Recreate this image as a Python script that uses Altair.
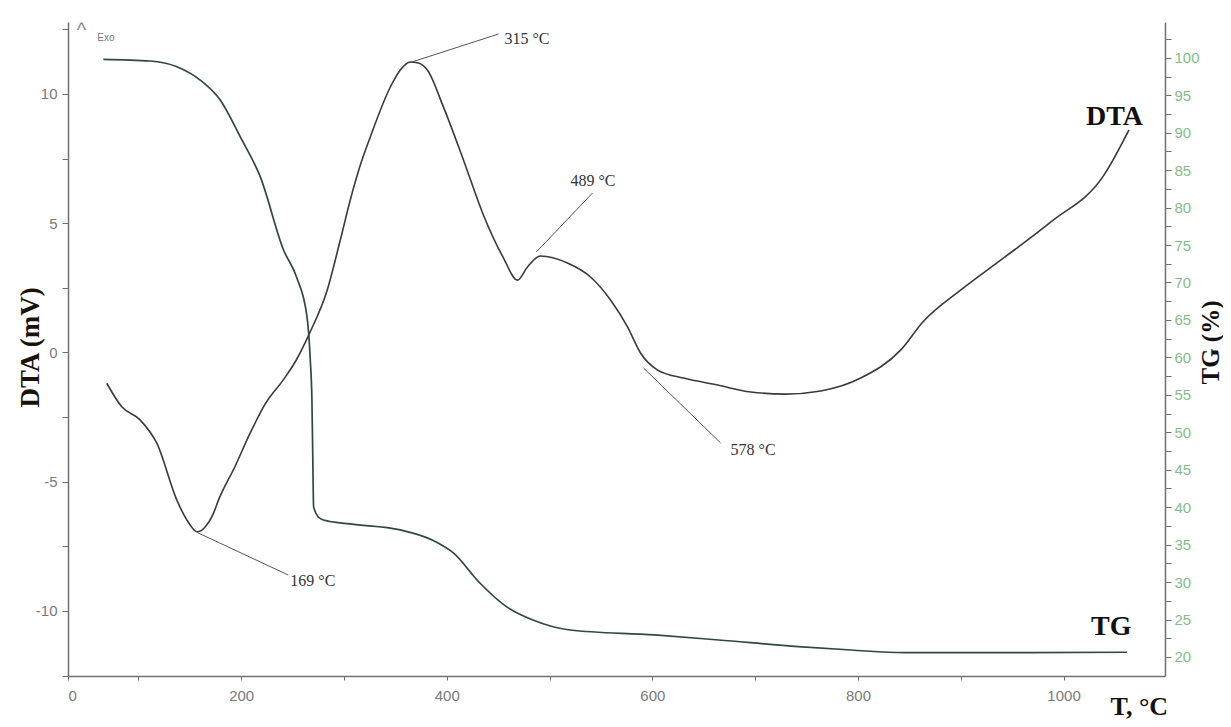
import altair as alt
import pandas as pd

# ---------------- data ----------------
dta_t = [69.2, 83.8, 101.7, 117.9, 137.4, 148.4, 157.2, 164.9, 172.7, 177.6,
         194.2, 208.8, 223.4, 240.9, 253.6, 266.2, 283.7, 296.4, 306.1, 315.9,
         325.6, 345.1, 354.8, 364.6, 372.3, 381.1, 396.7, 416.2, 435.6, 455.1,
         468.7, 478.5, 491.1, 517.4, 539.8, 559.3, 575.8, 588.5, 605.1, 630.4,
         663.5, 695.6, 729.7, 763.8, 802.7, 841.7, 863.1, 900.1, 939.1,
         987.7, 1039.3, 1063.7]
dta_mv = [-1.19, -2.10, -2.61, -3.51, -5.71, -6.56, -6.94, -6.75, -6.25, -5.74,
          -4.39, -3.11, -1.99, -1.06, -0.29, 0.72, 2.42, 4.35, 5.90, 7.25,
          8.34, 10.27, 10.93, 11.24, 11.20, 10.93, 9.50, 7.45, 5.32, 3.66,
          2.80, 3.31, 3.73, 3.46, 2.92, 2.03, 0.99, -0.02, -0.68, -0.99,
          -1.26, -1.53, -1.61, -1.49, -0.99, 0.10, 1.18, 2.42, 3.58,
          5.05, 6.86, 8.61]

tg_t = [65.9, 111.4, 137.4, 160.1, 179.6, 199.0, 218.5, 241.2, 254.2, 264.0,
        267.2, 268.8, 269.8, 270.4, 275.0, 280.1, 306.1, 354.8, 385.8, 406.4,
        432.2, 458.0, 483.8, 519.9, 602.1, 664.4, 741.9, 793.4, 845.0, 922.5,
        1061.7]
tg_pct = [99.80, 99.57, 98.81, 97.03, 94.36, 89.47, 84.13, 74.34, 70.60, 65.43,
          59.65, 54.31, 44.97, 40.07, 38.69, 38.29, 37.76, 36.96, 35.62, 33.89,
          29.88, 26.72, 24.94, 23.60, 22.94, 22.27, 21.38, 20.93, 20.57, 20.57,
          20.63]

ann_text = ["315 \u00b0C", "489 \u00b0C", "578 \u00b0C", "169 \u00b0C"]
ann_x1 = [364.6, 487.2, 591.4, 158.1]
ann_y1 = [11.22, 3.89, -0.60, -6.98]
ann_x2 = [450.3, 541.8, 666.4, 245.8]
ann_y2 = [12.32, 6.17, -3.50, -8.61]
ann_tx = [456.1, 520.3, 676.1, 247.7]
ann_ty = [12.13, 6.63, -3.77, -8.84]

x_ticks = [31.5, 100, 200, 300, 400, 500, 600, 700, 800, 900, 1000]
dta_ticks = [-12.5, -10, -7.5, -5, -2.5, 0, 2.5, 5, 7.5, 10, 12.5]
tg_ticks = [20, 22.5, 25, 27.5, 30, 32.5, 35, 37.5, 40, 42.5, 45, 47.5, 50,
            52.5, 55, 57.5, 60, 62.5, 65, 67.5, 70, 72.5, 75, 77.5, 80, 82.5,
            85, 87.5, 90, 92.5, 95, 97.5, 100, 102.5]

X_DOMAIN = [31.5, 1098.7]
DTA_DOMAIN = [-12.515, 12.785]
TG_DOMAIN = [17.46, 104.78]

# ---------------- tables ----------------
dta_df = pd.DataFrame({"T": dta_t, "DTA": dta_mv})
tg_df = pd.DataFrame({"T": tg_t, "TG": tg_pct})
ann_df = pd.DataFrame({"label": ann_text, "x1": ann_x1, "y1": ann_y1,
                       "x2": ann_x2, "y2": ann_y2, "tx": ann_tx, "ty": ann_ty})
dta_lab_df = pd.DataFrame({"T": [1021.8], "v": [9.11], "t": ["DTA"]})
tg_lab_df = pd.DataFrame({"T": [1026.7], "v": [24.0], "t": ["TG"]})
exo_df = pd.DataFrame({"T": [44.5], "v": [12.42], "t": ["^"]})
exo2_df = pd.DataFrame({"T": [60.0], "v": [12.17], "t": ["Exo"]})

AX_COL = "#6f6f6f"
LAB_FONT = "Liberation Sans"
SERIF = "Liberation Serif"

xs = alt.Scale(domain=X_DOMAIN, nice=False, zero=False)
ys_dta = alt.Scale(domain=DTA_DOMAIN, nice=False, zero=False)
ys_tg = alt.Scale(domain=TG_DOMAIN, nice=False, zero=False)

x_axis = alt.Axis(
    values=x_ticks, grid=False, domainColor=AX_COL, domainWidth=1.5,
    tickColor=AX_COL, tickSize=4, tickWidth=1,
    labelExpr="datum.value < 50 ? '0' : (datum.value % 200 === 0 ? '' + datum.value : '')",
    labelFont=LAB_FONT, labelFontSize=15, labelColor="#7a7a7a", labelPadding=8,
    title="T, \u00b0C", titleFont=SERIF, titleFontSize=26, titleFontWeight="bold",
    titleColor="#111111", titleX=1042, titleY=30, titleAlign="left",
    titleBaseline="middle",
)
y_axis_dta = alt.Axis(
    orient="left", values=dta_ticks, grid=False, domainColor=AX_COL,
    domainWidth=1.5, tickColor=AX_COL, tickSize=6, tickWidth=1,
    labelExpr="datum.value % 5 === 0 ? '' + datum.value : ''",
    labelFont=LAB_FONT, labelFontSize=15, labelColor="#7a7a7a", labelPadding=5,
    title="DTA (mV)", titleFont=SERIF, titleFontSize=27, titleFontWeight="bold",
    titleColor="#1a1208", titleX=-38, titleY=325, titleAngle=270,
    titleAlign="center", titleBaseline="middle",
)
y_axis_tg = alt.Axis(
    orient="right", values=tg_ticks, grid=False, domainColor=AX_COL,
    domainWidth=1.5, tickColor=AX_COL, tickSize=6, tickWidth=1,
    labelExpr="datum.value % 5 === 0 ? '' + datum.value : ''",
    labelFont=LAB_FONT, labelFontSize=15, labelColor="#86bd86", labelPadding=3,
    title="TG (%)", titleFont=SERIF, titleFontSize=25, titleFontWeight="bold",
    titleColor="#111111", titleX=45, titleY=320, titleAngle=270,
    titleAlign="center", titleBaseline="middle",
)


def X(field):
    return alt.X(field, type="quantitative", scale=xs, axis=x_axis)


def YD(field):
    return alt.Y(field, type="quantitative", scale=ys_dta, axis=y_axis_dta)


def YT(field):
    return alt.Y(field, type="quantitative", scale=ys_tg, axis=y_axis_tg)


dta_line = alt.Chart(dta_df).mark_line(
    color="#3a3a3a", strokeWidth=1.6, interpolate="monotone"
).encode(x=X("T"), y=YD("DTA"))

ann_rules = alt.Chart(ann_df).mark_rule(color="#555555", strokeWidth=1).encode(
    x=X("x1"), y=YD("y1"), x2="x2:Q", y2="y2:Q",
)
ann_texts = alt.Chart(ann_df).mark_text(
    align="left", baseline="middle", font=SERIF, fontSize=16, color="#333333"
).encode(x=X("tx"), y=YD("ty"), text="label:N")

dta_label = alt.Chart(dta_lab_df).mark_text(
    align="left", baseline="middle", font=SERIF, fontSize=28,
    fontWeight="bold", color="#111111"
).encode(x=X("T"), y=YD("v"), text="t:N")

exo_caret = alt.Chart(exo_df).mark_text(
    align="center", baseline="middle", font=LAB_FONT, fontSize=20, color="#888888"
).encode(x=X("T"), y=YD("v"), text="t:N")

exo_text = alt.Chart(exo2_df).mark_text(
    align="left", baseline="middle", font=LAB_FONT, fontSize=10, color="#777777"
).encode(x=X("T"), y=YD("v"), text="t:N")

tg_line = alt.Chart(tg_df).mark_line(
    color="#2f4a3c", strokeWidth=1.7, interpolate="monotone"
).encode(x=X("T"), y=YT("TG"))

tg_label = alt.Chart(tg_lab_df).mark_text(
    align="left", baseline="middle", font=SERIF, fontSize=28,
    fontWeight="bold", color="#111111"
).encode(x=X("T"), y=YT("v"), text="t:N")

dta_layer = alt.layer(dta_line, ann_rules, ann_texts, dta_label, exo_caret, exo_text)
tg_layer = alt.layer(tg_line, tg_label)

chart = alt.layer(dta_layer, tg_layer).resolve_scale(y="independent").properties(
    width=1097, height=654,
    padding={"left": 60, "top": 14, "right": 58, "bottom": 44},
    autosize=alt.AutoSizeParams(type="none"),
    background="white",
).configure_view(stroke=None)

chart.save("out.html", embed_options={"renderer": "svg", "actions": False})
